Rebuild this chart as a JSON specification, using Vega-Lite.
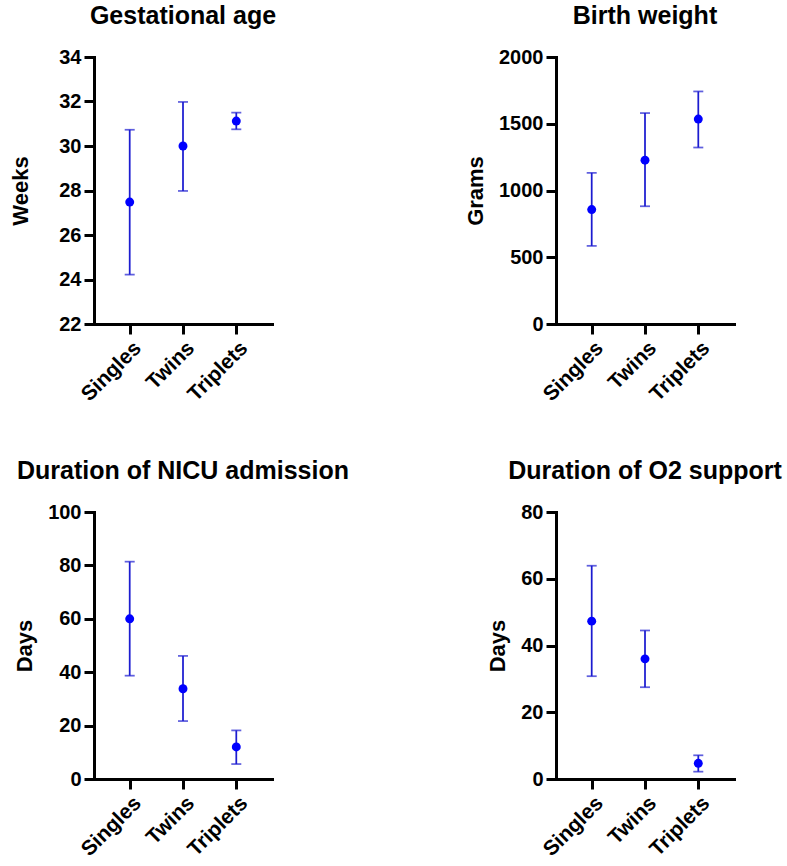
{
  "$schema": "https://vega.github.io/schema/vega-lite/v6.json",
  "padding": {"left": 9, "top": 4, "right": 5, "bottom": 5},
  "datasets": {
    "stats": [
      {"panel": "ga", "group": "Singles", "mean": 27.48, "lo": 24.22, "hi": 30.73},
      {"panel": "ga", "group": "Twins", "mean": 30.0, "lo": 27.98, "hi": 31.98},
      {"panel": "ga", "group": "Triplets", "mean": 31.12, "lo": 30.75, "hi": 31.5},
      {"panel": "bw", "group": "Singles", "mean": 857, "lo": 585, "hi": 1132},
      {"panel": "bw", "group": "Twins", "mean": 1227, "lo": 882, "hi": 1580},
      {"panel": "bw", "group": "Triplets", "mean": 1535, "lo": 1322, "hi": 1742},
      {"panel": "nicu", "group": "Singles", "mean": 60.0, "lo": 38.7, "hi": 81.4},
      {"panel": "nicu", "group": "Twins", "mean": 33.8, "lo": 21.7, "hi": 46.1},
      {"panel": "nicu", "group": "Triplets", "mean": 12.0, "lo": 5.6, "hi": 18.2},
      {"panel": "o2", "group": "Singles", "mean": 47.3, "lo": 30.8, "hi": 63.9},
      {"panel": "o2", "group": "Twins", "mean": 36.0, "lo": 27.5, "hi": 44.5},
      {"panel": "o2", "group": "Triplets", "mean": 4.7, "lo": 2.2, "hi": 7.1}
    ]
  },
  "columns": 2,
  "bounds": "flush",
  "spacing": {"column": 284, "row": 188},
  "concat": [
    {
      "title": "Gestational age",
      "width": 178,
      "height": 267,
      "data": {"name": "stats"},
      "transform": [{"filter": "datum.panel === 'ga'"}],
      "encoding": {
        "x": {"field": "group", "type": "nominal", "sort": ["Singles", "Twins", "Triplets"], "scale": {"type": "point", "padding": 0.67}, "title": null}
      },
      "layer": [
        {
          "mark": {"type": "errorbar", "ticks": {"size": 10, "thickness": 1.75, "color": "#1c1cd0"}, "rule": {"strokeWidth": 1.75, "color": "#1c1cd0"}},
          "encoding": {
            "y": {"field": "lo", "type": "quantitative", "scale": {"domain": [22, 34], "nice": false, "zero": false}, "axis": {"title": "Weeks", "titlePadding": 26, "values": [22, 24, 26, 28, 30, 32, 34]}},
            "y2": {"field": "hi"}
          }
        },
        {
          "mark": {"type": "point", "filled": true, "size": 80, "color": "#0000ff", "opacity": 1},
          "encoding": {"y": {"field": "mean", "type": "quantitative", "axis": {"title": "Weeks", "titlePadding": 26}}}
        }
      ]
    },
    {
      "title": "Birth weight",
      "width": 178,
      "height": 267,
      "data": {"name": "stats"},
      "transform": [{"filter": "datum.panel === 'bw'"}],
      "encoding": {
        "x": {"field": "group", "type": "nominal", "sort": ["Singles", "Twins", "Triplets"], "scale": {"type": "point", "padding": 0.67}, "title": null}
      },
      "layer": [
        {
          "mark": {"type": "errorbar", "ticks": {"size": 10, "thickness": 1.75, "color": "#1c1cd0"}, "rule": {"strokeWidth": 1.75, "color": "#1c1cd0"}},
          "encoding": {
            "y": {"field": "lo", "type": "quantitative", "scale": {"domain": [0, 2000], "nice": false}, "axis": {"title": "Grams", "format": "d", "values": [0, 500, 1000, 1500, 2000]}},
            "y2": {"field": "hi"}
          }
        },
        {
          "mark": {"type": "point", "filled": true, "size": 80, "color": "#0000ff", "opacity": 1},
          "encoding": {"y": {"field": "mean", "type": "quantitative", "axis": {"title": "Grams", "format": "d"}}}
        }
      ]
    },
    {
      "title": "Duration of NICU admission",
      "width": 178,
      "height": 267,
      "data": {"name": "stats"},
      "transform": [{"filter": "datum.panel === 'nicu'"}],
      "encoding": {
        "x": {"field": "group", "type": "nominal", "sort": ["Singles", "Twins", "Triplets"], "scale": {"type": "point", "padding": 0.67}, "title": null}
      },
      "layer": [
        {
          "mark": {"type": "errorbar", "ticks": {"size": 10, "thickness": 1.75, "color": "#1c1cd0"}, "rule": {"strokeWidth": 1.75, "color": "#1c1cd0"}},
          "encoding": {
            "y": {"field": "lo", "type": "quantitative", "scale": {"domain": [0, 100], "nice": false}, "axis": {"title": "Days", "values": [0, 20, 40, 60, 80, 100]}},
            "y2": {"field": "hi"}
          }
        },
        {
          "mark": {"type": "point", "filled": true, "size": 80, "color": "#0000ff", "opacity": 1},
          "encoding": {"y": {"field": "mean", "type": "quantitative", "axis": {"title": "Days"}}}
        }
      ]
    },
    {
      "title": "Duration of O2 support",
      "width": 178,
      "height": 267,
      "data": {"name": "stats"},
      "transform": [{"filter": "datum.panel === 'o2'"}],
      "encoding": {
        "x": {"field": "group", "type": "nominal", "sort": ["Singles", "Twins", "Triplets"], "scale": {"type": "point", "padding": 0.67}, "title": null}
      },
      "layer": [
        {
          "mark": {"type": "errorbar", "ticks": {"size": 10, "thickness": 1.75, "color": "#1c1cd0"}, "rule": {"strokeWidth": 1.75, "color": "#1c1cd0"}},
          "encoding": {
            "y": {"field": "lo", "type": "quantitative", "scale": {"domain": [0, 80], "nice": false}, "axis": {"title": "Days", "values": [0, 20, 40, 60, 80]}},
            "y2": {"field": "hi"}
          }
        },
        {
          "mark": {"type": "point", "filled": true, "size": 80, "color": "#0000ff", "opacity": 1},
          "encoding": {"y": {"field": "mean", "type": "quantitative", "axis": {"title": "Days"}}}
        }
      ]
    }
  ],
  "config": {
    "view": {"stroke": null},
    "font": "Liberation Sans",
    "title": {"font": "Liberation Sans", "fontSize": 25, "fontWeight": "bold", "color": "black", "anchor": "middle", "frame": "group", "offset": 18},
    "axis": {
      "grid": false,
      "domainColor": "black",
      "domainWidth": 3,
      "domainCap": "square",
      "tickColor": "black",
      "tickWidth": 3,
      "tickSize": 10,
      "labelFont": "Liberation Sans",
      "labelFontSize": 20,
      "labelFontWeight": "bold",
      "labelColor": "black",
      "labelPadding": 3,
      "titleFont": "Liberation Sans",
      "titleFontSize": 22,
      "titleFontWeight": "bold",
      "titleColor": "black",
      "titlePadding": 11
    },
    "axisX": {"labelAngle": -45, "labelFontSize": 21}
  }
}
